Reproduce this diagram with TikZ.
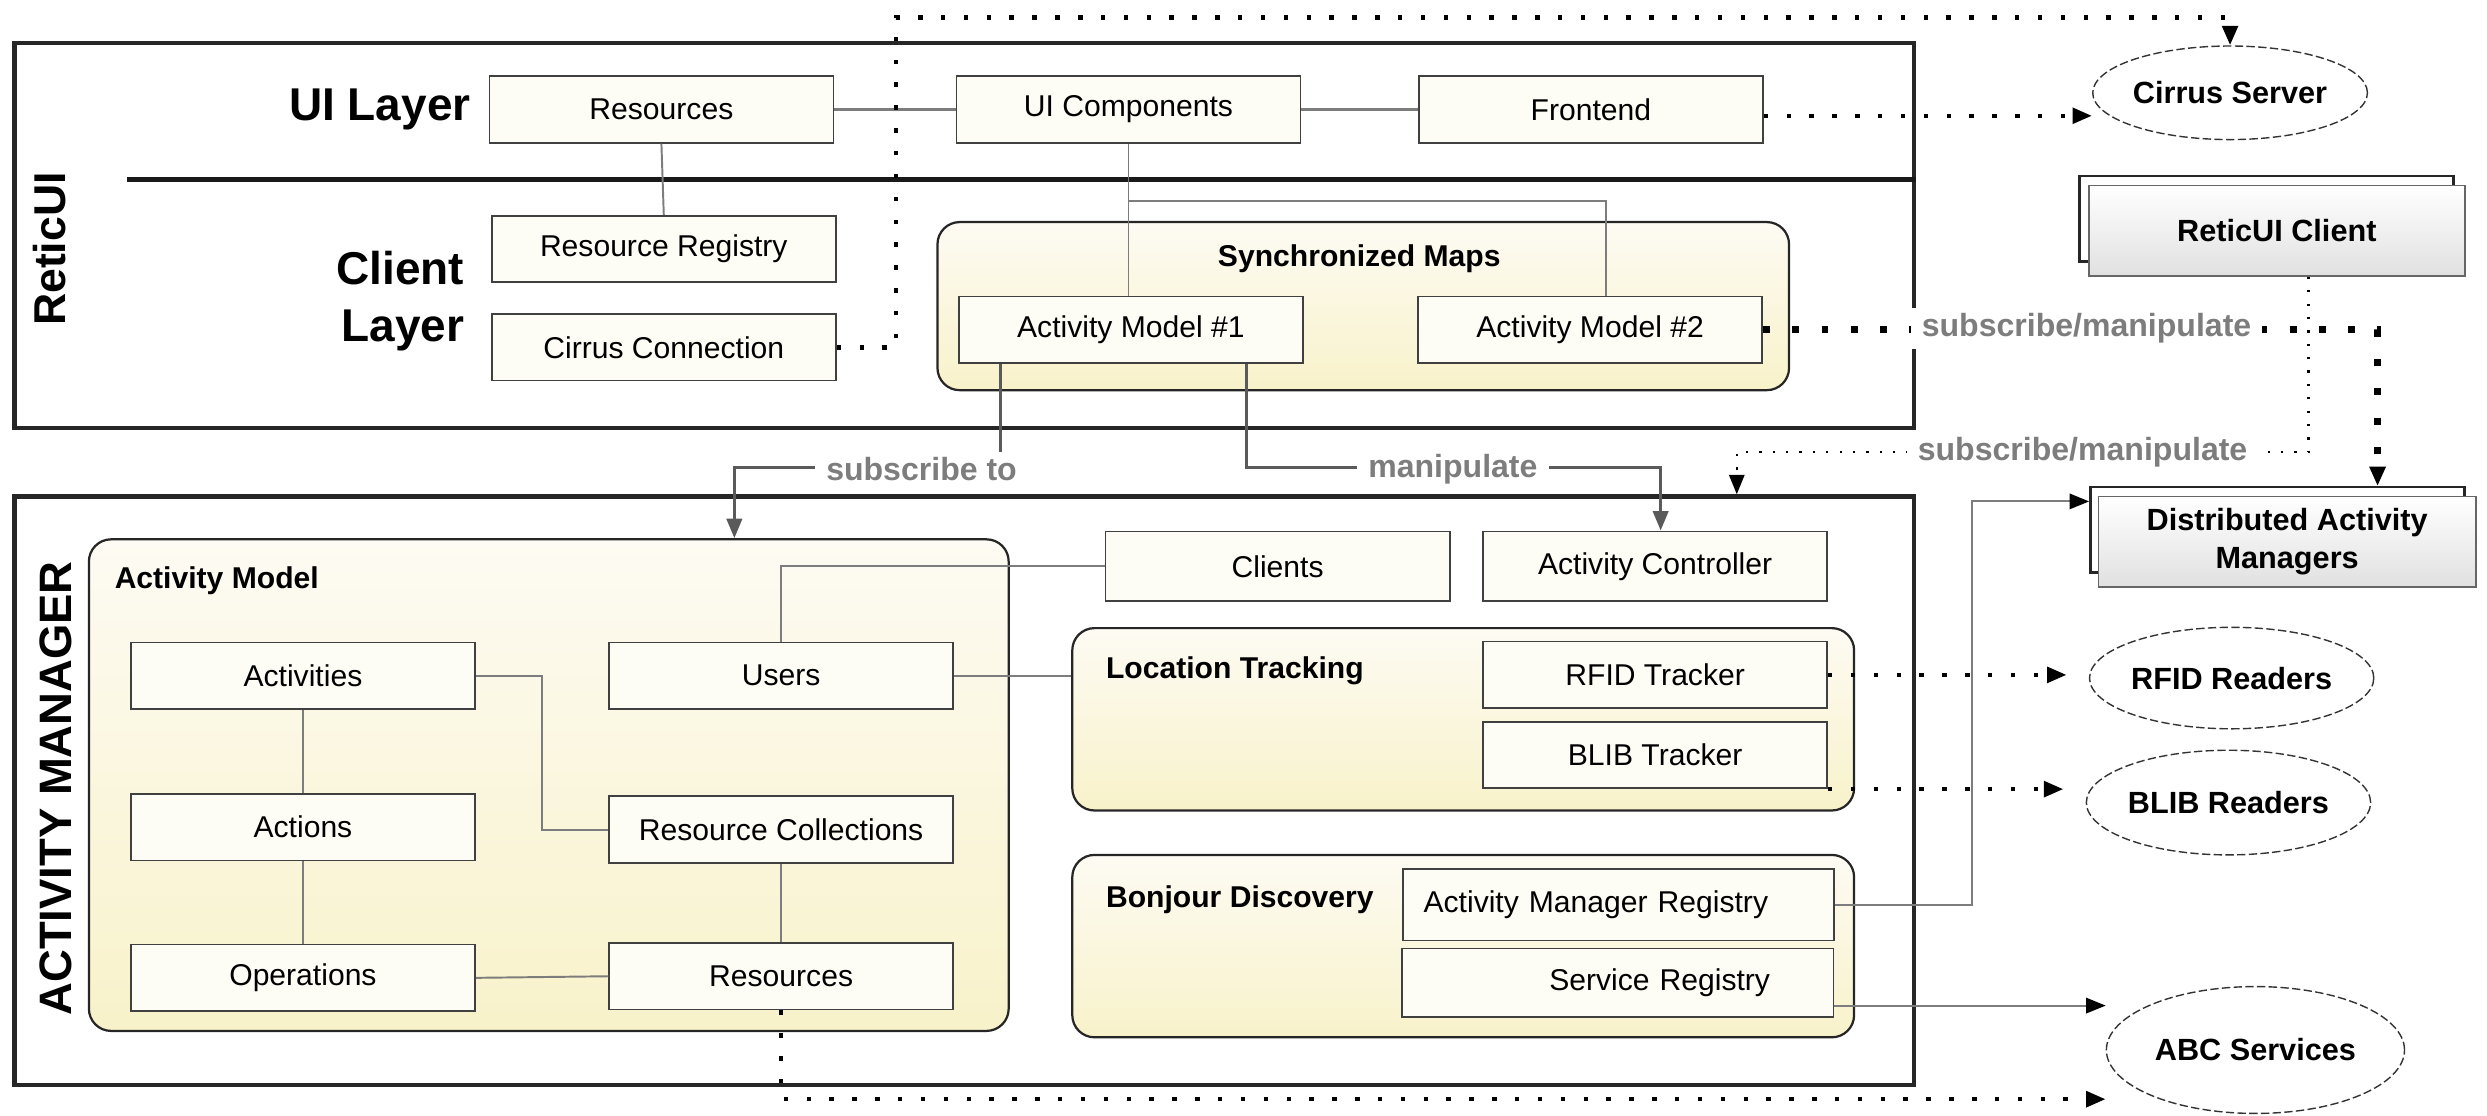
\documentclass[tikz,border=0pt]{standalone}
\usepackage{fontspec}
\setmainfont{Liberation Sans}
\usetikzlibrary{shapes.geometric,arrows.meta}
\definecolor{boxfill}{RGB}{253,253,246}
\definecolor{grptop}{RGB}{253,251,243}
\definecolor{grpbot}{RGB}{248,242,202}
\definecolor{linkgray}{RGB}{125,125,125}
\definecolor{flowgray}{RGB}{90,90,90}
\definecolor{lblgray}{RGB}{125,125,125}
\tikzset{
  box/.style={draw=black!75,line width=0.6pt,fill=boxfill,minimum width=4.34cm,minimum height=0.84cm,inner sep=0pt,font=\fontsize{10.8}{12}\selectfont},
  group/.style={draw=black!85,line width=0.8pt,rounded corners=0.28cm,top color=grptop,bottom color=grpbot,inner sep=0pt},
  grptitle/.style={font=\fontsize{10.8}{12}\selectfont\bfseries,inner sep=0pt},
  outer/.style={draw=black!85,line width=1.6pt,inner sep=0pt},
  layer/.style={font=\fontsize{16.5}{20.4}\selectfont\bfseries,inner sep=0pt},
  cloud/.style={ellipse,draw=black!80,line width=0.5pt,dash pattern=on 3pt off 1.2pt,fill=white,inner sep=0pt,font=\fontsize{11}{12}\selectfont\bfseries},
  backbox/.style={draw=black!85,line width=1pt,fill=white,inner sep=0pt},
  frontbox/.style={draw=black!60,line width=0.6pt,top color=white,bottom color=black!12,inner sep=0pt,font=\fontsize{11}{13.6}\selectfont\bfseries,align=center},
  link/.style={draw=linkgray,line width=0.7pt},
  linkthick/.style={draw=linkgray,line width=1.3pt},
  flow/.style={draw=flowgray,line width=1.1pt},
  tipblack/.style={-{Triangle[length=7pt,width=5.5pt,color=black]}},
  dotthick/.style={line width=2.5pt,dash pattern=on 2.5pt off 8pt},
  dotmid/.style={line width=1.6pt,dash pattern=on 1.6pt off 6.6pt},
  dotthin/.style={line width=0.8pt,dash pattern=on 0.8pt off 4pt},
  lbl/.style={font=\fontsize{11.5}{13}\selectfont\bfseries,text=lblgray,fill=white,inner xsep=4pt,inner ysep=2pt}
}
\begin{document}
\begin{tikzpicture}[x=0.02cm,y=-0.02cm,>={Triangle[length=7pt,width=5.5pt]}]
\useasboundingbox (0,0) rectangle (1568,703);
% ReticUI
\node[outer,minimum width=23.96cm,minimum height=4.86cm] (reticui) at (608,148.5) {};
\draw[line width=1.8pt,black!90] (80,113) -- (80,113 -| reticui.east);
\node[rotate=90,font=\fontsize{16}{18}\selectfont\bfseries] (treticui) at (31,157) {ReticUI};
\node[layer,anchor=east] (tuilayer) at (297,69) {UI Layer};
\node[layer,anchor=east,align=right] (tclient) at (293,190) {Client\\Layer};
\node[box] (uires) at (417,69) {Resources};
\node[box] (uicomp) at (711.5,69) {UI Components};
\node[box] (frontend) at (1003,69) {Frontend};
\node[box] (resreg) at (418.5,157) {Resource Registry};
\node[box] (circonn) at (418.5,219) {Cirrus Connection};
\node[group,minimum width=10.74cm,minimum height=2.12cm] (syncmaps) at (859.5,193) {};
\node[grptitle] (tsync) at (857,163) {Synchronized Maps};
\node[box] (am1) at (713,208) {Activity Model \#1};
\node[box] (am2) at (1002.5,208) {Activity Model \#2};

% Activity Manager
\node[outer,minimum width=23.96cm,minimum height=7.42cm] (actmgr) at (608,498.5) {};
\node[rotate=90,font=\fontsize{16.3}{19}\selectfont\bfseries] (tactmgr) at (35,497) {ACTIVITY MANAGER};
\node[group,minimum width=11.6cm,minimum height=6.2cm] (actmodel) at (346,495) {};
\node[grptitle,anchor=west] (tactmodel) at (72,366) {Activity Model};
\node[box] (activities) at (191,426) {Activities};
\node[box] (actions) at (191,521.5) {Actions};
\node[box] (operations) at (191,616.5) {Operations};
\node[box] (users) at (492.5,426) {Users};
\node[box] (rescoll) at (492.5,523) {Resource Collections};
\node[box] (amres) at (492.5,615.5) {Resources};
\node[box,minimum height=0.88cm] (clients) at (805.5,357) {Clients};
\node[box,minimum height=0.88cm] (actctrl) at (1043.5,357) {Activity Controller};
\node[group,minimum width=9.86cm,minimum height=2.3cm] (loctrack) at (922.5,453.5) {};
\node[grptitle,anchor=west] (tloc) at (697,423) {Location Tracking};
\node[box] (rfid) at (1043.5,425.5) {RFID Tracker};
\node[box] (blib) at (1043.5,476) {BLIB Tracker};
\node[group,minimum width=9.86cm,minimum height=2.3cm] (bonjour) at (922.5,596.5) {};
\node[grptitle,anchor=west] (tbon) at (697,567) {Bonjour Discovery};
\node[box,text width=4.92cm,inner xsep=0.26cm,align=left,minimum height=0.9cm] (amr) at (1020.5,570.5) {Activity Manager Registry};
\node[box,text width=3.84cm,inner xsep=0.8cm,align=right,minimum height=0.86cm] (sr) at (1020,619.5) {Service Registry};

% outside
\node[cloud,minimum width=3.08cm,minimum height=1.18cm] (cirrus) at (1406,58.5) {Cirrus Server};
\node[backbox,minimum width=4.72cm,minimum height=1.08cm] (rcback) at (1429,138) {};
\node[frontbox,minimum width=4.74cm,minimum height=1.14cm] (rc) at (1435.5,145.5) {ReticUI Client};
\node[backbox,minimum width=4.72cm,minimum height=1.08cm] (damback) at (1436,334) {};
\node[frontbox,minimum width=4.76cm,minimum height=1.14cm] (dam) at (1442,341.5) {Distributed Activity\\Managers};
\node[cloud,minimum width=3.08cm,minimum height=1.28cm] (rfidr) at (1407,427.5) {RFID Readers};
\node[cloud,minimum width=3.08cm,minimum height=1.32cm] (blibr) at (1405,506) {BLIB Readers};
\node[cloud,minimum width=3.76cm,minimum height=1.6cm] (abc) at (1422,662) {ABC Services};

% links
\draw[linkthick] (uires.east) -- (uicomp.west);
\draw[linkthick] (uicomp.east) -- (frontend.west);
\draw[link] (uires.south) -- (resreg.north);
\draw[link] (uicomp.south) -- (uicomp.south |- am1.north);
\draw[link] (uicomp.south |- 0,127) -| ([xshift=0.2cm]am2.north);
\draw[dotmid,->] (circonn.east) -| (565,11) -| (cirrus.north);
\draw[dotmid,->] (frontend.east |- 0,73) -- (cirrus.west |- 0,73);
\draw[flow,->] ([xshift=-1.64cm]am1.south) |- (463,295) -- (463,295 |- actmodel.north);
\draw[flow,->] ([xshift=1.46cm]am1.south) |- (1047,295) -- (1047,295 |- actctrl.north);
\node[lbl] (lsub) at (581,296) {subscribe to};
\node[lbl] (lman) at (916,296) {manipulate};
\draw[dotthick,->] (am2.east) -| ([xshift=1.14cm,yshift=0.12cm]dam.north);
\node[lbl] (lsm1) at (1315.5,207) {subscribe/manipulate};
\draw[dotthin,->] ([xshift=0.4cm]rc.south) |- (1095,285) -- (1095,285 |- actmgr.north);
\node[lbl] (lsm2) at (1313,285) {subscribe/manipulate};

\draw[link] (activities.east) -- ++(42,0) |- (rescoll.west);
\draw[link] (activities.south) -- (actions.north);
\draw[link] (actions.south) -- (operations.north);
\draw[link] (rescoll.south) -- (amres.north);
\draw[link] (operations.east) -- (amres.west);
\draw[link] (users.north) |- (clients.west);
\draw[link] (users.east) -- (users.east -| loctrack.west);
\draw[dotmid,->] (amres.south) |- (abc.west |- 0,693);
\draw[dotmid,->,shorten >=0.28cm] (rfid.east) -- (rfid.east -| rfidr.west);
\draw[dotmid,->,shorten >=0.28cm] (blib.south east) -- (blib.south east -| blibr.west);
\draw[link,tipblack] (amr.east) -- ++(86,0) |- ([yshift=-0.2cm]damback.north west);
\draw[link,tipblack] (sr.east |- 0,634) -- (abc.west |- 0,634);
\end{tikzpicture}
\end{document}
